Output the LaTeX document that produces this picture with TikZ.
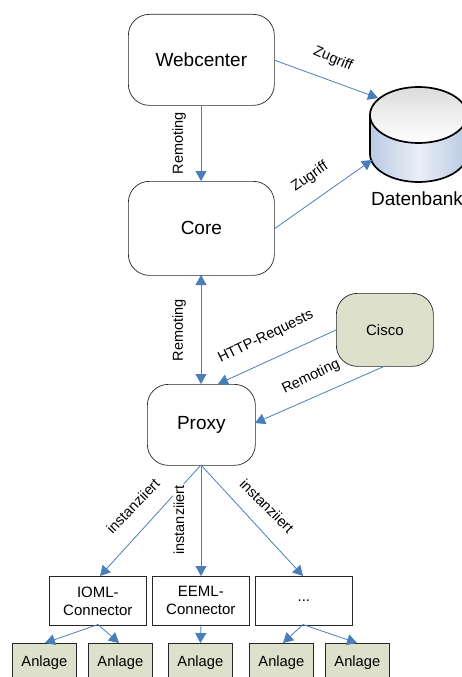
\documentclass[tikz,border=0pt]{standalone}
\usepackage{fontspec}
\setmainfont{Liberation Sans}
\usetikzlibrary{arrows.meta}
\definecolor{arrowblue}{HTML}{4A7EBB}
\definecolor{olivefill}{HTML}{DDE0CB}
\definecolor{edgegrey}{HTML}{262626}
\definecolor{cylside}{HTML}{B9CAE3}
\definecolor{cylmid}{HTML}{E9EEF7}
\definecolor{cyltop}{HTML}{DCDCDC}
\tikzset{
  x=1pt,y=-1pt,
  conn/.style={draw=arrowblue,line width=0.8pt,-{Triangle[length=10pt,width=11pt,fill=arrowblue]}},
  biconn/.style={draw=arrowblue,line width=0.8pt,{Triangle[length=10pt,width=11pt,fill=arrowblue]}-{Triangle[length=10pt,width=11pt,fill=arrowblue]}},
  rbox/.style={draw=edgegrey,line width=0.7pt,rounded corners=21pt,fill=white,inner sep=0pt,font=\fontsize{19}{22}\selectfont,anchor=north west},
  sbox/.style={draw=edgegrey,line width=0.7pt,fill=white,inner sep=0pt,font=\fontsize{15}{18}\selectfont,align=center,anchor=north west},
  leaf/.style={draw=edgegrey,line width=0.7pt,fill=olivefill,inner sep=0pt,font=\fontsize{14.7}{17}\selectfont,anchor=north west,minimum width=64pt,minimum height=40pt,text depth=0pt},
  lbl/.style={font=\fontsize{14.5}{17}\selectfont,inner sep=0pt},
}
\begin{document}
\begin{tikzpicture}
\useasboundingbox (0,0) rectangle (462,677);
\begin{scope}
\clip (0,0) rectangle (462,677);
% database
\shade[left color=cylside,right color=cylside,middle color=cylmid]
  (370,115) -- (370,154) arc[x radius=48.5,y radius=28,start angle=180,end angle=0] -- (467,115) -- cycle;
\shade[top color=cyltop,bottom color=white]
  (418.5,115) ellipse[x radius=48.5,y radius=28];
\draw[black,line width=1.7pt] (370,115) -- (370,154) arc[x radius=48.5,y radius=28,start angle=180,end angle=0] -- (467,115);
\draw[black,line width=1.7pt] (418.5,115) ellipse[x radius=48.5,y radius=28];
\coordinate (dbA) at (378,98);
\coordinate (dbB) at (372,160);
% leaf nodes
\node[leaf] (a1) at (12,643) {\raisebox{4pt}{Anlage}};
\node[leaf] (a2) at (88,643) {\raisebox{4pt}{Anlage}};
\node[leaf] (a3) at (168,643) {\raisebox{4pt}{Anlage}};
\node[leaf] (a4) at (249,643) {\raisebox{4pt}{Anlage}};
\node[leaf] (a5) at (325,643) {\raisebox{4pt}{Anlage}};
\end{scope}
\node[rbox,minimum width=146pt,minimum height=91pt] (web) at (128,14) {Webcenter};
\node[rbox,minimum width=146pt,minimum height=94pt] (core) at (128,181) {Core};
\node[rbox,minimum width=108pt,minimum height=81pt] (proxy) at (147,384) {Proxy};
\node[rbox,minimum width=97pt,minimum height=73pt,fill=olivefill,font=\fontsize{15}{18}\selectfont] (cisco) at (336,293) {Cisco};
\node[sbox,minimum width=97pt,minimum height=49pt] (ioml) at (49,576) {IOML-\\Connector};
\node[sbox,minimum width=97pt,minimum height=49pt] (eeml) at (152,576) {EEML-\\Connector};
\node[sbox,minimum width=97pt,minimum height=49pt] (dots) at (255,576) {...};
% connectors
\coordinate (webR) at (274,60);
\coordinate (coreR) at (274,229);
\coordinate (webB) at (201,105);
\coordinate (coreT) at (201,181);
\coordinate (coreB) at (201,275);
\coordinate (proxyT) at (201,384);
\coordinate (proxyB) at (201,465);
\coordinate (proxyTR) at (218,384);
\coordinate (proxyR) at (255,423);
\coordinate (ciscoL) at (336,330);
\coordinate (ciscoB) at (385,366);
\coordinate (iomlT) at (100,576);
\coordinate (eemlT) at (201,576);
\coordinate (dotsT) at (303,576);
\coordinate (iomlB) at (98,624.5);
\coordinate (eemlB) at (201,624.5);
\coordinate (dotsB) at (303,624.5);
\coordinate (a1T) at (45,643);
\coordinate (a2T) at (119,643);
\coordinate (a4T) at (283,643);
\coordinate (a5T) at (357,643);
\draw[conn] (webR) -- (dbA);
\draw[conn] (coreR) -- (dbB);
\draw[conn] (webB) -- (coreT);
\draw[biconn] (coreB) -- (proxyT);
\draw[conn] (ciscoL) -- (proxyTR);
\draw[conn] (ciscoB) -- (proxyR);
\draw[conn] (proxyB) -- (iomlT);
\draw[conn] (proxyB) -- (eemlT);
\draw[conn] (proxyB) -- (dotsT);
\draw[conn] (iomlB) -- (a1T);
\draw[conn] (iomlB) -- (a2T);
\draw[conn] (eemlB) -- (a3.north);
\draw[conn] (dotsB) -- (a4T);
\draw[conn] (dotsB) -- (a5T);
% labels
\node[lbl,rotate=-23] (l1) at (333,59) {Zugriff};
\node[lbl,rotate=35] (l2) at (310,177) {Zugriff};
\node[lbl,rotate=90] (l3) at (179,143) {Remoting};
\node[lbl,rotate=90] (l4) at (179,330) {Remoting};
\node[lbl,rotate=26] (l5) at (266,337) {HTTP-Requests};
\node[lbl,rotate=26] (l6) at (311,377) {Remoting};
\node[lbl,rotate=46] (l7) at (133,506) {instanziiert};
\node[lbl,rotate=90,fill=white,inner sep=1pt] (l8) at (179,520) {instanziiert};
\node[lbl,rotate=-45] (l10) at (267,506) {instanziiert};
\node[font=\fontsize{19}{22}\selectfont,inner sep=0pt] (dbl) at (417,199) {Datenbank};
\end{tikzpicture}
\end{document}
